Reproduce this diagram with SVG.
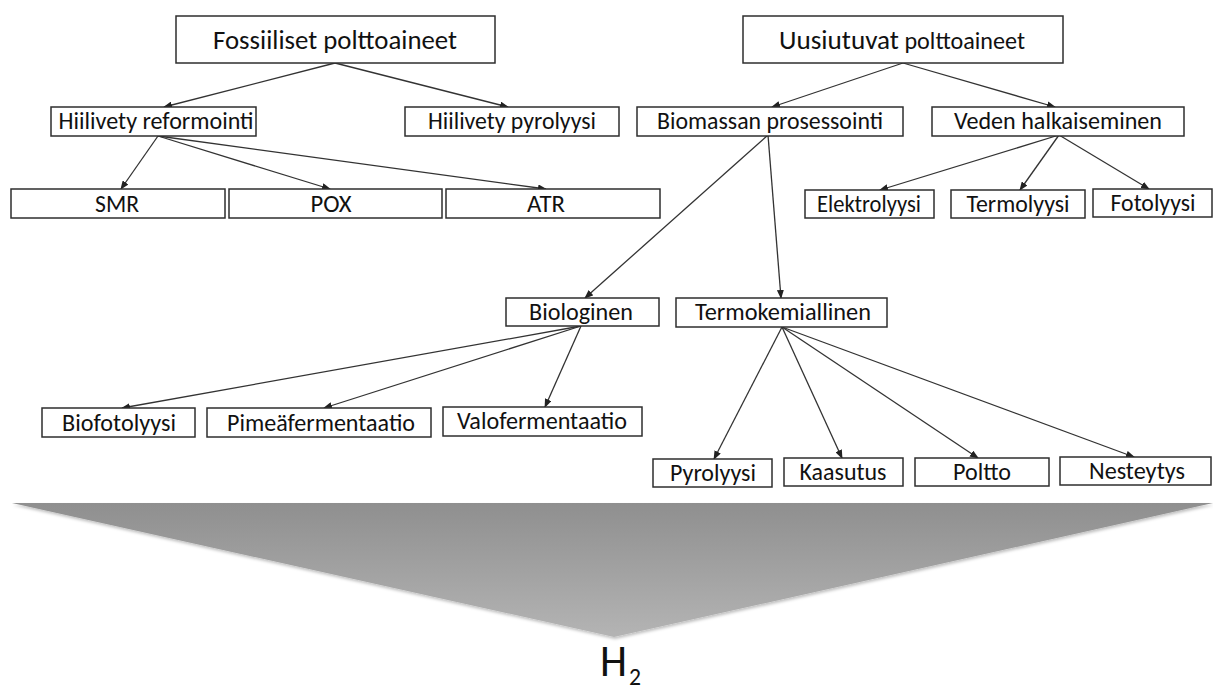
<svg xmlns="http://www.w3.org/2000/svg" width="1213" height="692" viewBox="0 0 1213 692">
<style>
.box{fill:#ffffff;stroke:#2e2e2e;stroke-width:1.5}
.t{font-family:Carlito,Lato,"Liberation Sans",sans-serif;font-size:24px;fill:#111111;text-anchor:middle}
.big{font-size:26px}
.con{stroke:#333333;stroke-width:1.3;fill:none;marker-end:url(#ah)}
</style>
<defs>
<marker id="ah" markerUnits="userSpaceOnUse" markerWidth="9" markerHeight="7" refX="8" refY="3.5" orient="auto">
<path d="M0,0 L9,3.5 L0,7 z" fill="#222222"/>
</marker>
<linearGradient id="g" x1="0" y1="0" x2="0" y2="1">
<stop offset="0" stop-color="#8f8f8f"/>
<stop offset="1" stop-color="#b4b4b4"/>
</linearGradient>
<filter id="sh" x="-5%" y="-5%" width="110%" height="120%">
<feDropShadow dx="1" dy="2" stdDeviation="1.5" flood-color="#000000" flood-opacity="0.25"/>
</filter>
</defs>
<rect width="1213" height="692" fill="#ffffff"/>

<g id="funnel">
<polygon points="12,503 1213,503 614,637" fill="url(#g)" filter="url(#sh)"/>
</g>

<g id="connectors">
<line class="con" x1="335" y1="63" x2="164" y2="107"/>
<line class="con" x1="335" y1="63" x2="508" y2="107"/>
<line class="con" x1="158" y1="136" x2="121" y2="189"/>
<line class="con" x1="158" y1="136" x2="330" y2="189"/>
<line class="con" x1="158" y1="136" x2="546" y2="189"/>
<line class="con" x1="903" y1="63" x2="772" y2="107"/>
<line class="con" x1="903" y1="63" x2="1055" y2="107"/>
<line class="con" x1="768" y1="135" x2="585" y2="298"/>
<line class="con" x1="768" y1="135" x2="781" y2="298"/>
<line class="con" x1="1059" y1="135" x2="880" y2="190"/>
<line class="con" x1="1059" y1="135" x2="1020" y2="190"/>
<line class="con" x1="1059" y1="135" x2="1149" y2="189"/>
<line class="con" x1="581" y1="326" x2="122" y2="408"/>
<line class="con" x1="581" y1="326" x2="324" y2="408"/>
<line class="con" x1="581" y1="326" x2="545" y2="407"/>
<line class="con" x1="782" y1="327" x2="714" y2="459"/>
<line class="con" x1="782" y1="327" x2="842" y2="458"/>
<line class="con" x1="782" y1="327" x2="978" y2="458"/>
<line class="con" x1="782" y1="327" x2="1134" y2="457"/>
</g>

<g id="n-fossiiliset">
<rect class="box" x="176" y="16" width="319" height="47"/>
<text class="t big" x="335" y="49" textLength="244" lengthAdjust="spacingAndGlyphs">Fossiiliset polttoaineet</text>
</g>
<g id="n-uusiutuvat">
<rect class="box" x="743" y="16" width="320" height="47"/>
<text class="t" x="902" y="49" textLength="246" lengthAdjust="spacingAndGlyphs"><tspan font-size="27">Uusiutuvat</tspan> <tspan font-size="24">polttoaineet</tspan></text>
</g>
<g id="n-hreform">
<rect class="box" x="51" y="107" width="205" height="29"/>
<text class="t" x="156" y="129" textLength="195" lengthAdjust="spacingAndGlyphs">Hiilivety reformointi</text>
</g>
<g id="n-hpyro">
<rect class="box" x="405" y="107" width="214" height="29"/>
<text class="t" x="512" y="129" textLength="168" lengthAdjust="spacingAndGlyphs">Hiilivety pyrolyysi</text>
</g>
<g id="n-biomassa">
<rect class="box" x="637" y="107" width="266" height="29"/>
<text class="t" x="770" y="129" textLength="226" lengthAdjust="spacingAndGlyphs">Biomassan prosessointi</text>
</g>
<g id="n-veden">
<rect class="box" x="932" y="107" width="252" height="29"/>
<text class="t" x="1058" y="129" textLength="208" lengthAdjust="spacingAndGlyphs">Veden halkaiseminen</text>
</g>
<g id="n-smr">
<rect class="box" x="11" y="189" width="214" height="29"/>
<text class="t" x="117" y="212" textLength="44" lengthAdjust="spacingAndGlyphs">SMR</text>
</g>
<g id="n-pox">
<rect class="box" x="229" y="189" width="213" height="29"/>
<text class="t" x="331" y="212" textLength="41" lengthAdjust="spacingAndGlyphs">POX</text>
</g>
<g id="n-atr">
<rect class="box" x="446" y="189" width="214" height="29"/>
<text class="t" x="546" y="212" textLength="38" lengthAdjust="spacingAndGlyphs">ATR</text>
</g>
<g id="n-elektro">
<rect class="box" x="805" y="190" width="129" height="28"/>
<text class="t" x="869" y="212" textLength="104" lengthAdjust="spacingAndGlyphs">Elektrolyysi</text>
</g>
<g id="n-termo">
<rect class="box" x="951" y="190" width="134" height="28"/>
<text class="t" x="1018" y="212" textLength="103" lengthAdjust="spacingAndGlyphs">Termolyysi</text>
</g>
<g id="n-foto">
<rect class="box" x="1093" y="189" width="119" height="28"/>
<text class="t" x="1153" y="211" textLength="85" lengthAdjust="spacingAndGlyphs">Fotolyysi</text>
</g>
<g id="n-biologinen">
<rect class="box" x="506" y="298" width="153" height="28"/>
<text class="t" x="581" y="320" textLength="104" lengthAdjust="spacingAndGlyphs">Biologinen</text>
</g>
<g id="n-termokem">
<rect class="box" x="676" y="298" width="211" height="29"/>
<text class="t" x="783" y="320" textLength="176" lengthAdjust="spacingAndGlyphs">Termokemiallinen</text>
</g>
<g id="n-biofoto">
<rect class="box" x="42" y="408" width="153" height="29"/>
<text class="t" x="119" y="431" textLength="114" lengthAdjust="spacingAndGlyphs">Biofotolyysi</text>
</g>
<g id="n-pimea">
<rect class="box" x="207" y="408" width="224" height="29"/>
<text class="t" x="321" y="431" textLength="188" lengthAdjust="spacingAndGlyphs">Pimeäfermentaatio</text>
</g>
<g id="n-valo">
<rect class="box" x="443" y="407" width="199" height="29"/>
<text class="t" x="542" y="429" textLength="170" lengthAdjust="spacingAndGlyphs">Valofermentaatio</text>
</g>
<g id="n-pyro">
<rect class="box" x="653" y="459" width="119" height="28"/>
<text class="t" x="713" y="481" textLength="86" lengthAdjust="spacingAndGlyphs">Pyrolyysi</text>
</g>
<g id="n-kaasutus">
<rect class="box" x="784" y="458" width="119" height="28"/>
<text class="t" x="843" y="480" textLength="87" lengthAdjust="spacingAndGlyphs">Kaasutus</text>
</g>
<g id="n-poltto">
<rect class="box" x="915" y="458" width="134" height="28"/>
<text class="t" x="982" y="480" textLength="58" lengthAdjust="spacingAndGlyphs">Poltto</text>
</g>
<g id="n-nesteytys">
<rect class="box" x="1060" y="457" width="151" height="28"/>
<text class="t" x="1137" y="479" textLength="96" lengthAdjust="spacingAndGlyphs">Nesteytys</text>
</g>

<g id="n-h2">
<text x="600" y="676" font-family="Carlito,Lato,'Liberation Sans',sans-serif" font-size="46" fill="#111111" textLength="27" lengthAdjust="spacingAndGlyphs">H</text>
<text x="629" y="685" font-family="Carlito,Lato,'Liberation Sans',sans-serif" font-size="24" fill="#111111" textLength="12" lengthAdjust="spacingAndGlyphs">2</text>
</g>
</svg>
